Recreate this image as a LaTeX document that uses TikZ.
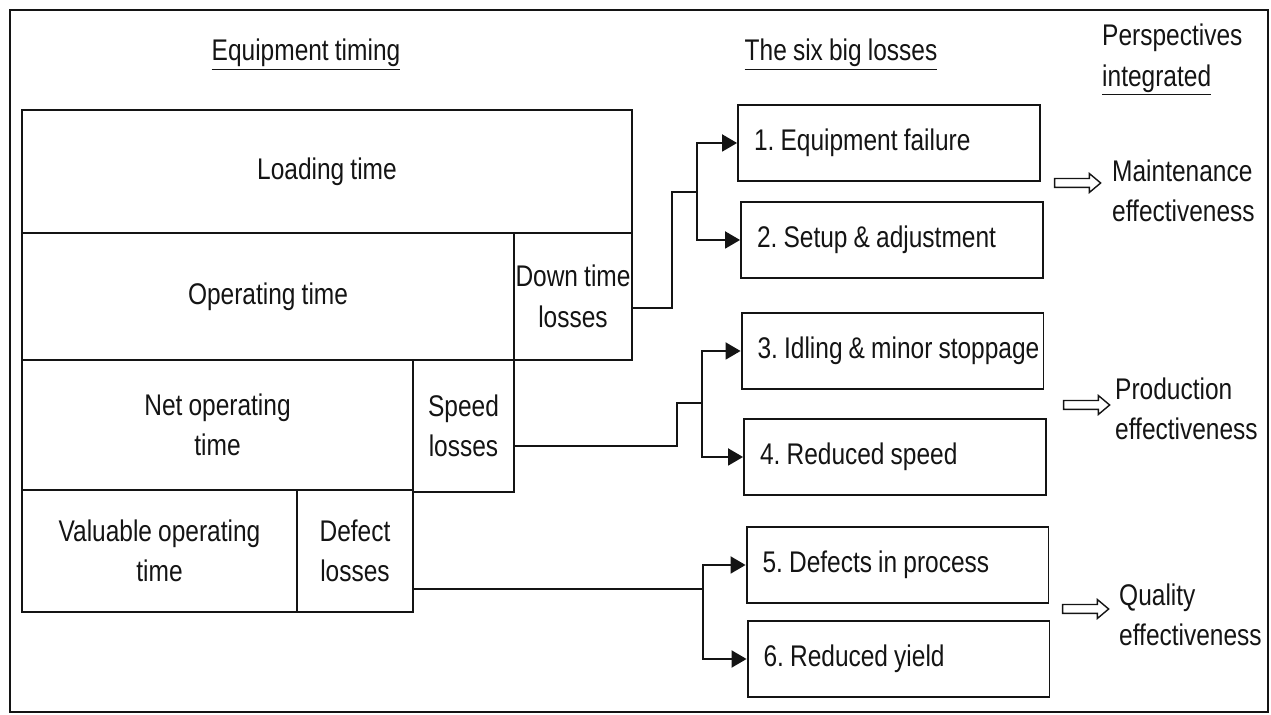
\documentclass[tikz,border=0pt]{standalone}
\usepackage{fontspec}
\setmainfont{Liberation Sans}[FakeStretch=0.82, WordSpace=0.9]
\usetikzlibrary{arrows.meta,shapes.arrows}

\tikzset{
	timebox/.style={draw, line width=1.1pt, inner sep=0pt, align=center},
	lossbox/.style={draw, line width=1.1pt, minimum height=1.52cm, text width=5.9cm,
		inner xsep=0.07cm, align=flush left,
		execute at begin node={\spaceskip=0pt\xspaceskip=0pt\hspace*{0.25cm}\hbox\bgroup},
		execute at end node={\egroup}},
	hollow/.style={single arrow, draw, line width=0.8pt, inner xsep=0pt, inner ysep=0.075cm,
		minimum height=0.92cm, single arrow head extend=0.1cm, single arrow tip angle=80},
	link/.style={line width=1.1pt}
}

\begin{document}
\begin{tikzpicture}[x=0.02cm, y=-0.02cm, >={Triangle[length=0.3cm,width=0.34cm]},
	font=\fontsize{17}{23}\selectfont\frenchspacing, color=black!92]
		\useasboundingbox (0,0) rectangle (1271,715);
		\draw[line width=1.1pt] (10,10) rectangle (1268,712);
		
		% Headings
		\node (hdtime) at (306,55) {\underline{Equipment timing}};
		\node (hdloss) at (841,55) {\underline{The six big losses}};
		\node[anchor=west, align=left] (hdpersp) at (1096,60) {Perspectives\\\underline{integrated}};
		
		% Equipment timing blocks
		\node[timebox, minimum width=12.2cm, minimum height=2.46cm] (loading) at (327,171.5) {Loading time};
		\node[timebox, minimum width=9.84cm, minimum height=2.54cm] (operating) at (268,296.5) {Operating time};
		\node[timebox, minimum width=2.36cm, minimum height=2.54cm] (downtime) at (573,296.5) {Down time\\losses};
		\node[timebox, minimum width=7.82cm, minimum height=2.6cm] (netop) at (217.5,425) {Net operating\\time};
		\node[timebox, minimum width=2.02cm, minimum height=2.64cm] (speed) at (463.5,426) {Speed\\losses};
		\node[timebox, minimum width=5.5cm, minimum height=2.44cm] (valuable) at (159.5,551) {Valuable operating\\time};
		\node[timebox, minimum width=2.32cm, minimum height=2.44cm] (defect) at (355,551) {Defect\\losses};
		
		% The six big losses
		\node[lossbox] (loss1) at (889,143) {1. Equipment failure};
		\node[lossbox] (loss2) at (892,240) {2. Setup \& adjustment};
		\node[lossbox] (loss3) at (892.5,351) {3. Idling \& minor stoppage};
		\node[lossbox] (loss4) at (895,457) {4. Reduced speed};
		\node[lossbox] (loss5) at (897.5,565) {5. Defects in process};
		\node[lossbox] (loss6) at (898.5,659) {6. Reduced yield};
		
		% Perspectives
		\node[hollow] (to1) at (1075,183) {};
		\node[hollow] (to2) at (1084,405) {};
		\node[hollow] (to3) at (1083,609) {};
		\node[anchor=west, align=left] (maint) at (1106,191) {Maintenance\\effectiveness};
		\node[anchor=west, align=left] (prod) at (1109,409) {Production\\effectiveness};
		\node[anchor=west, align=left] (qual) at (1113,615) {Quality\\effectiveness};
		
		% Edges
		\coordinate (k0) at (672,308);
		\coordinate (k1) at (672,192);
		\coordinate (b1) at (697,192);
		\draw[link] (downtime.east |- k0) -- (k0) -- (k1) -- (b1);
		\draw[link, ->] (b1) |- (loss1.west);
		\draw[link, ->] (b1) |- (loss2.west);
		
		\coordinate (k2) at (677,446);
		\coordinate (k3) at (677,403);
		\coordinate (b2) at (702,403);
		\draw[link] (speed.east |- k2) -- (k2) -- (k3) -- (b2);
		\draw[link, ->] (b2) |- (loss3.west);
		\draw[link, ->] (b2) |- (loss4.west);
		
		\coordinate (b3) at (703,589);
		\draw[link] (defect.east |- b3) -- (b3);
		\draw[link, ->] (b3) |- (loss5.west);
		\draw[link, ->] (b3) |- (loss6.west);
		
	\end{tikzpicture}
\end{document}
